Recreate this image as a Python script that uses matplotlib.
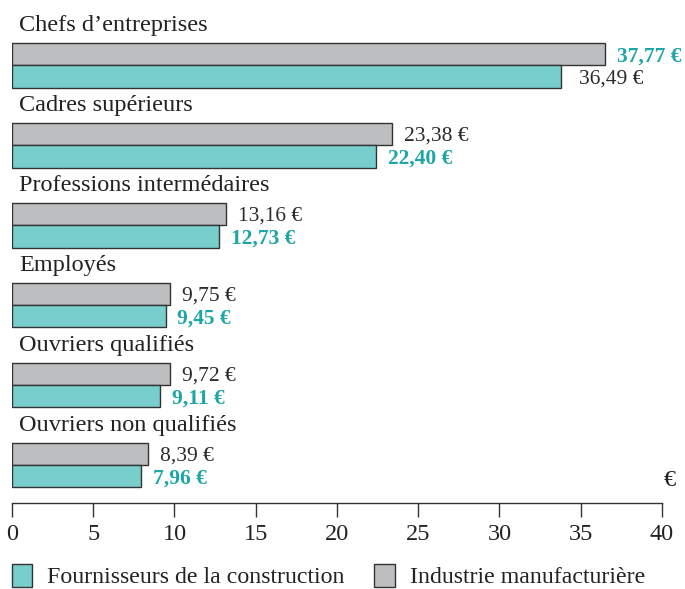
import matplotlib.pyplot as plt
from matplotlib.patches import Patch

plt.rcParams['font.family'] = ['Liberation Serif', 'DejaVu Serif']

# Data
categories = ['Chefs d\u2019entreprises', 'Cadres supérieurs', 'Professions intermédaires',
              'Employés', 'Ouvriers qualifiés', 'Ouvriers non qualifiés']
industrie = [36.49, 23.38, 13.16, 9.75, 9.72, 8.39]        # grey bars (top)
fournisseurs = [33.8, 22.40, 12.73, 9.45, 9.11, 7.96]      # teal bars (bottom), first bar drawn short
top_labels = ['37,77 €', '23,38 €', '13,16 €', '9,75 €', '9,72 €', '8,39 €']
bottom_labels = ['36,49 €', '22,40 €', '12,73 €', '9,45 €', '9,11 €', '7,96 €']
top_bold = [True, False, False, False, False, False]
bottom_bold = [False, True, True, True, True, True]
ticks = [0, 5, 10, 15, 20, 25, 30, 35, 40]

teal = '#78cdcd'
grey = '#bdbec0'
teal_txt = '#1ea6a6'
dark = '#2a2a2a'
edge = '#333333'

fig = plt.figure(figsize=(6.85, 5.89), dpi=100)
ax = fig.add_axes([12 / 685, 1 - 503 / 589, 650 / 685, 493 / 589])

h = 0.28
ypos = list(range(len(categories)))
ax.barh([y - h / 2 for y in ypos], industrie, height=h, color=grey, edgecolor=edge, linewidth=1)
ax.barh([y + h / 2 for y in ypos], fournisseurs, height=h, color=teal, edgecolor=edge, linewidth=1)

off = 0.72
for i, y in enumerate(ypos):
    ax.text(0.45, y - 0.43, categories[i], fontsize=17.5, color='#222222', va='baseline', ha='left')
    ax.text(industrie[i] + off, y - h / 2 + 0.03, top_labels[i], fontsize=15.5,
            color=teal_txt if top_bold[i] else dark, fontweight='bold' if top_bold[i] else 'normal',
            va='center', ha='left')
    ax.text(fournisseurs[i] + off * (1.5 if i == 0 else 1.0), y + h / 2 + 0.03, bottom_labels[i], fontsize=15.5,
            color=teal_txt if bottom_bold[i] else dark, fontweight='bold' if bottom_bold[i] else 'normal',
            va='center', ha='left')

ax.set_xlim(0, 40)
ax.set_ylim(5.475, -0.69)
ax.set_xticks(ticks)
ax.set_xticklabels([str(t) for t in ticks], fontsize=17.5, color='#222222')
ax.tick_params(axis='x', direction='out', length=10, width=1, color=edge, pad=5)
ax.set_yticks([])
for s in ['top', 'right', 'left']:
    ax.spines[s].set_visible(False)
ax.spines['bottom'].set_color(edge)
ax.spines['bottom'].set_linewidth(1)
ax.patch.set_alpha(0)

fig.text(670 / 685, 1 - 481 / 589, '€', fontsize=17.5, color='#222222', ha='center', va='center')

handles = [Patch(facecolor=teal, edgecolor=edge, linewidth=1),
           Patch(facecolor=grey, edgecolor=edge, linewidth=1)]
fig.legend(handles, ['Fournisseurs de la construction', 'Industrie manufacturière'],
           loc='center left', bbox_to_anchor=(12 / 685, 1 - 576 / 589), ncol=2, frameon=False,
           fontsize=17.2, handlelength=0.84, handleheight=1.15, handletextpad=0.63,
           columnspacing=1.25, borderaxespad=0, borderpad=0, labelcolor='#222222')

fig.savefig('out.png', dpi=100)
